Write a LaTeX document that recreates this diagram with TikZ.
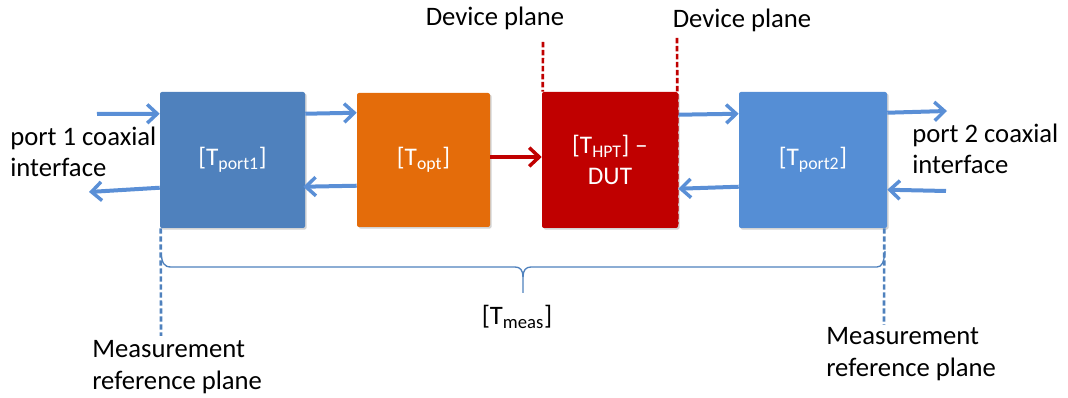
\documentclass[tikz,border=0pt]{standalone}
\usepackage{fontspec}
\setmainfont{Carlito}
\usetikzlibrary{arrows.meta,calc,shadows}
\definecolor{cport}{HTML}{4F81BD}
\definecolor{copt}{HTML}{E46C0A}
\definecolor{chpt}{HTML}{C00000}
\definecolor{cporttwo}{HTML}{558ED5}
\definecolor{carrow}{HTML}{5A8FD6}
\tikzset{
  blk/.style={rectangle, rounded corners=1.5pt, inner sep=0pt, text=white, align=center,
    font=\fontsize{19}{23}\selectfont,
    drop shadow={opacity=0.35, shadow xshift=1.2pt, shadow yshift=-1.2pt}},
  barrow/.style={draw=carrow, line width=3pt, -{Straight Barb[length=7.5pt,width=14pt,line width=2.6pt]}},
  rarrow/.style={draw=chpt, line width=3pt, -{Straight Barb[length=7.5pt,width=14pt,line width=2.6pt]}},
  lbl/.style={font=\fontsize{20}{23.5}\selectfont, align=left, inner sep=0pt},
  rdash/.style={draw=chpt, line width=2pt, dash pattern=on 4pt off 2pt},
  bdash/.style={draw=cport, line width=2pt, dash pattern=on 4pt off 2pt},
}
\begin{document}
\begin{tikzpicture}[x=0.75pt,y=-0.75pt]
\useasboundingbox (0,0) rectangle (1068,398);
% blocks
\node[blk, fill=cport, minimum width=108.75pt, minimum height=102pt] (p1) at (232.5,160) {[T\textsubscript{port1}]};
\node[blk, fill=copt, minimum width=99.75pt, minimum height=100.5pt] (opt) at (423.5,160) {[T\textsubscript{opt}]};
\node[blk, fill=chpt, minimum width=102pt, minimum height=102pt] (hpt) at (610,160) {[T\textsubscript{HPT}] –\\DUT};
\node[blk, fill=cporttwo, minimum width=111pt, minimum height=102pt] (p2) at (813,160) {[T\textsubscript{port2}]};
% free ends
\coordinate (in1) at (97,114);
\coordinate (out1) at (89,192);
\coordinate (out2) at (947,111);
\coordinate (in2) at (946,191);
\coordinate (dp1) at (543,42);
\coordinate (dp2) at (677,38);
\coordinate (mr1) at (161,336);
\coordinate (mr2) at (884,325);
% arrows
\draw[barrow] (in1) -- ($(p1.north west)+(0,22)$);
\draw[barrow] ($(p1.north west)+(0,96)$) -- (out1);
\draw[barrow] ($(p1.north east)+(0,22)$) -- ($(opt.north west)+(0,20)$);
\draw[barrow] ($(opt.north west)+(0,93)$) -- ($(p1.north east)+(-2,95)$);
\draw[rarrow] ($(opt.east)+(0,-3)$) -- ($(hpt.west)+(0,-3)$);
\draw[barrow] ($(hpt.north east)+(0,23)$) -- ($(p2.north west)+(0,22)$);
\draw[barrow] ($(p2.north west)+(0,95)$) -- ($(hpt.north east)+(0,97)$);
\draw[barrow] ($(p2.north east)+(0,21)$) -- (out2);
\draw[barrow] (in2) -- ($(p2.north east)+(0,98)$);
% device planes
\draw[rdash] (dp1) -- ($(hpt.north west)+(1,0)$);
\draw[rdash] (dp2) -- ($(hpt.north east)+(-1,0)$) -- ($(hpt.south east)+(-1,-4)$);
% measurement planes
\draw[bdash] ($(p1.south west)+(1,0)$) -- (mr1);
\draw[bdash] ($(p2.south east)+(-3,0)$) -- (mr2);
% brace
\node[lbl] (tm) at (517,317) {[T\textsubscript{meas}]};
\draw[cport, line width=1pt] (161,253) .. controls (162,263) and (164,267) .. (171,267) -- (515,267)
  .. controls (520,267) and (523,270) .. (523,277) -- (523,293);
\draw[cport, line width=1pt] (523,277) .. controls (523,270) and (526,267) .. (531,267) -- (877,267)
  .. controls (882,267) and (884,262) .. (885,251);
% labels
\node[lbl, anchor=west] (pl1) at (10,152) {port 1 coaxial\\interface};
\node[lbl, anchor=west] (pl2) at (912,149) {port 2 coaxial\\interface};
\node[lbl] (dv1) at (495,18) {Device plane};
\node[lbl] (dv2) at (742,20) {Device plane};
\node[lbl, anchor=west] (ml1) at (92,367) {Measurement\\reference plane};
\node[lbl, anchor=west] (ml2) at (826,354) {Measurement\\reference plane};
\end{tikzpicture}
\end{document}
